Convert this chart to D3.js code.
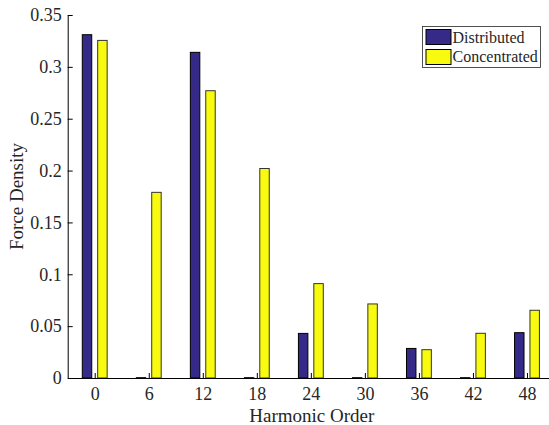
<!DOCTYPE html>
<html>
<head>
<meta charset="utf-8">
<script src="https://cdn.jsdelivr.net/npm/d3@7/dist/d3.min.js"></script>
<style>
  html, body { margin: 0; padding: 0; background: #fff; }
  svg { display: block; }
  text { font-family: "Liberation Serif", "Times New Roman", serif; fill: #262626; }
</style>
</head>
<body>
<svg id="chart" width="549" height="425"></svg>
<script>
const harmonics = [0, 6, 12, 18, 24, 30, 36, 42, 48];
const distributed = [0.331, 0.0003, 0.314, 0.0003, 0.043, 0.0003, 0.0285, 0.0003, 0.0437];
const concentrated = [0.3255, 0.179, 0.277, 0.202, 0.091, 0.0714, 0.0273, 0.0431, 0.0653];
const seriesNames = ["Distributed", "Concentrated"];
const seriesColors = ["#352a87", "#f9fb0e"];
const yTicks = [0, 0.05, 0.1, 0.15, 0.2, 0.25, 0.3, 0.35];

(function () {
const svg = d3.select("#chart");
const mLeft = 67.7, mRight = 554, mTop = 15, mBottom = 378;

const x = d3.scaleLinear().domain([-3, 51]).range([mLeft, mRight]);
const y = d3.scaleLinear().domain([0, 0.35]).range([mBottom, mTop]);

const barOffset = 0.855, barWidth = 1.05;
const series = [distributed, concentrated];

series.forEach((vals, si) => {
  const off = si === 0 ? -barOffset : barOffset;
  svg.append("g").selectAll("rect")
    .data(harmonics.map((h, i) => ({h, v: vals[i]})))
    .join("rect")
    .attr("x", d => x(d.h + off - barWidth / 2))
    .attr("width", x(barWidth) - x(0))
    .attr("y", d => y(d.v))
    .attr("height", d => y(0) - y(d.v))
    .attr("fill", seriesColors[si])
    .attr("stroke", si === 0 ? "#000" : "#333")
    .attr("stroke-width", 1);
});

// Y axis
const yAxis = d3.axisLeft(y).tickValues(yTicks)
  .tickFormat(d => d === 0 ? "0" : String(+d.toFixed(2)))
  .tickSizeInner(-5).tickSizeOuter(0).tickPadding(6);
const gy = svg.append("g").attr("transform", `translate(${mLeft},0)`).call(yAxis);
gy.select(".domain").attr("stroke", "#000");
gy.selectAll(".tick line").attr("stroke", "#000");
gy.selectAll("text").attr("font-size", 18).attr("font-family", "Liberation Serif").attr("fill", "#262626").attr("x", -6);

// X axis
const xAxis = d3.axisBottom(x).tickValues(harmonics)
  .tickSizeInner(-5).tickSizeOuter(0).tickPadding(8);
const gx = svg.append("g").attr("transform", `translate(0,${mBottom})`).call(xAxis);
gx.select(".domain").attr("stroke", "#000");
gx.selectAll(".tick line").attr("stroke", "#000");
gx.selectAll("text").attr("font-size", 18).attr("font-family", "Liberation Serif").attr("fill", "#262626").attr("y", 9);

// Axis labels
svg.append("text")
  .attr("x", (mLeft + mRight) / 2 + 1).attr("y", 422)
  .attr("text-anchor", "middle").attr("font-size", 19)
  .text("Harmonic Order");
svg.append("text")
  .attr("transform", `translate(23,${(mTop + mBottom) / 2}) rotate(-90)`)
  .attr("text-anchor", "middle").attr("font-size", 19)
  .text("Force Density");

// Legend
const lg = svg.append("g");
lg.append("rect").attr("x", 422.5).attr("y", 26.5).attr("width", 118).attr("height", 41)
  .attr("fill", "#fff").attr("stroke", "#262626").attr("stroke-width", 0.8);
seriesNames.forEach((name, i) => {
  lg.append("rect").attr("x", 426).attr("y", 29.5 + i * 20).attr("width", 25).attr("height", 15)
    .attr("fill", seriesColors[i]).attr("stroke", "#000").attr("stroke-width", 1);
  lg.append("text").attr("x", 452.5).attr("y", 42.5 + i * 19.5)
    .attr("font-size", 16).text(name);
});
})();
</script>
</body>
</html>
